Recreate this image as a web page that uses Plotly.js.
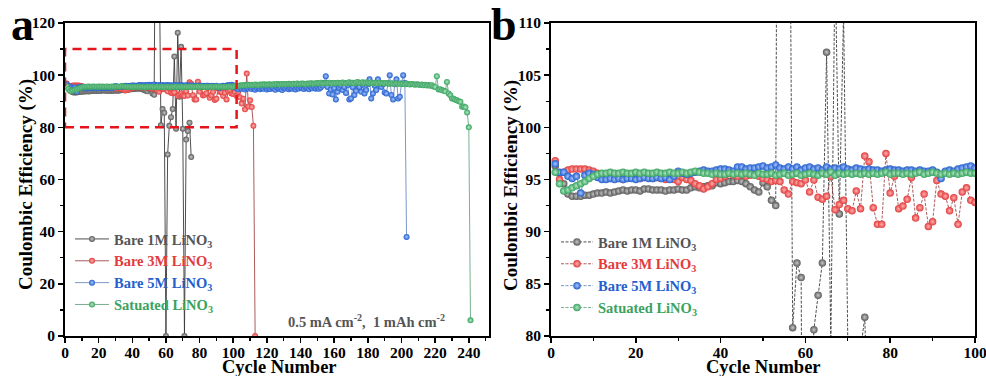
<!DOCTYPE html>
<html>
<head>
<meta charset="utf-8">
<script src="https://cdn.plot.ly/plotly-3.0.1.min.js"></script>
<style>html,body{margin:0;padding:0;background:#fff;}#chart{width:986px;height:376px;}</style>
</head>
<body>
<div id="chart"></div>
<script>
// ---------- DATA (Coulombic efficiency, %, per cycle starting at cycle 1) ----------
const seriesNames = ['Bare 1M LiNO<sub>3</sub>', 'Bare 3M LiNO<sub>3</sub>', 'Bare 5M LiNO<sub>3</sub>', 'Satuated LiNO<sub>3</sub>'];

const ceBare1M = [
  96.3, 95.6, 94.6, 93.6, 93.4, 93.4, 93.4, 93.5, 93.5, 93.6,
  93.7, 93.7, 93.8, 93.7, 93.8, 93.9, 94.0, 93.9, 94.0, 94.0,
  93.9, 94.1, 94.1, 94.0, 94.0, 94.0, 93.9, 94.0, 94.0, 94.1,
  94.0, 94.0, 94.2, 94.3, 94.2, 94.3, 94.4, 94.4, 94.7, 94.6,
  94.7, 94.8, 94.8, 94.9, 94.8, 94.6, 94.3, 94.0, 93.8, 94.7,
  94.3, 93.0, 92.5, 200.0, 160.0, 146.0, 80.8, 87.0, 85.6, 0.0,
  69.6, 80.6, 83.9, 87.0, 107.2, 79.5, 116.3, 91.7, 110.9, 79.5,
  0.0, 75.3, 78.6, 81.8, 68.6
];

const ceBare3M = [
  96.8, 95.0, 95.7, 95.9, 96.0, 96.0, 96.0, 96.0, 95.9, 95.8,
  95.6, 95.4, 95.2, 95.1, 95.1, 95.1, 95.0, 95.1, 95.2, 95.1,
  95.1, 95.2, 95.2, 95.1, 95.2, 95.1, 95.0, 95.2, 95.0, 94.8,
  95.2, 95.0, 94.9, 94.6, 94.4, 94.1, 94.3, 94.6, 95.0, 95.1,
  95.3, 95.6, 95.4, 95.3, 95.5, 95.3, 95.4, 95.6, 95.3, 95.1,
  95.0, 94.8, 94.9, 94.8, 94.0, 93.6, 94.8, 94.7, 94.6, 94.95,
  93.8, 94.95, 93.3, 93.1, 93.4, 95.3, 92.1, 92.6, 93.0, 92.2,
  92.0, 93.9, 92.2, 97.25, 96.7, 92.3, 90.7, 90.7, 97.5, 93.7,
  95.3, 92.2, 92.45, 93.1, 95.2, 91.3, 92.3, 93.6, 90.5, 90.95,
  94.9, 93.6, 93.4, 92.0, 93.25, 90.7, 93.8, 94.2, 93.0, 92.8,
  93.5, 92.0, 93.6, 91.5, 89.1, 91.0, 86.9, 100.6, 88.0, 90.4,
  87.8, 80.6, 0.0
];

const ceBare5M = [
  96.5, 95.7, 95.7, 95.3, 95.1, 95.3, 93.7, 95.4, 95.6, 95.5,
  95.2, 95.0, 95.0, 95.1, 95.0, 95.1, 95.0, 95.1, 95.1, 95.0,
  95.1, 95.2, 95.1, 95.1, 95.2, 95.1, 95.2, 95.0, 95.3, 95.8,
  95.6, 95.5, 95.6, 95.7, 95.8, 95.9, 95.8, 95.8, 95.9, 96.0,
  96.0, 95.9, 95.8, 96.2, 96.2, 96.0, 96.1, 96.1, 96.2, 96.3,
  96.1, 96.2, 96.4, 96.1, 96.0, 96.2, 96.0, 96.2, 95.9, 96.1,
  96.2, 96.0, 96.1, 95.9, 96.2, 96.0, 96.1, 96.0, 96.2, 96.0,
  95.9, 96.1, 96.0, 95.9, 96.0, 95.9, 95.9, 95.8, 95.9, 96.0,
  95.9, 95.9, 95.8, 95.9, 95.9, 95.8, 95.9, 95.8, 95.8, 95.9,
  95.7, 95.1, 95.8, 95.9, 95.8, 96.0, 96.1, 96.2, 96.3, 96.1,
  95.4, 95.0, 94.6, 95.2, 94.8, 95.3, 94.5, 95.1, 94.9, 95.4,
  94.7, 95.2, 94.4, 95.0, 95.3, 94.6, 95.1, 94.8, 95.4, 94.5,
  95.0, 94.7, 95.3, 94.9, 94.4, 95.2, 94.8, 95.0, 94.3, 95.1,
  94.9, 95.4, 94.6, 95.0, 94.8, 95.3, 94.5, 95.2, 94.9, 95.5,
  95.0, 94.7, 95.3, 95.1, 94.6, 95.4, 95.0, 95.6, 94.8, 95.2,
  94.8, 95.3, 96.0, 97.0, 99.6, 95.5, 93.0, 94.5, 92.6, 95.0,
  90.7, 93.6, 95.2, 96.0, 94.3, 95.5, 93.2, 96.2, 90.7, 91.1,
  95.4, 92.4, 94.0, 96.0, 95.5, 93.6, 96.3, 93.0, 94.3, 96.5,
  98.4, 91.1, 93.0, 96.0, 94.3, 98.4, 96.2, 95.5, 96.5, 93.4,
  93.0, 96.8, 100.0, 92.4, 90.7, 96.5, 98.4, 91.1, 91.7, 96.8,
  100.0, 97.0, 38.0
];

const ceSaturated = [
  95.7, 94.6, 93.9, 94.0, 94.2, 94.4, 94.6, 94.8, 95.1, 95.3,
  95.5, 95.6, 95.6, 95.7, 95.6, 95.6, 95.7, 95.6, 95.6, 95.7,
  95.6, 95.7, 95.6, 95.6, 95.7, 95.6, 95.6, 95.7, 95.6, 95.6,
  95.7, 95.6, 95.7, 95.8, 95.7, 95.6, 95.6, 95.5, 95.6, 95.5,
  95.5, 95.6, 95.5, 95.6, 95.5, 95.6, 95.5, 95.4, 95.6, 95.5,
  95.5, 95.6, 95.4, 95.5, 95.6, 95.4, 95.5, 95.6, 95.4, 95.5,
  95.6, 95.5, 95.4, 95.6, 95.5, 95.7, 95.4, 95.6, 95.5, 95.6,
  95.5, 95.6, 95.5, 95.6, 95.5, 95.6, 95.5, 95.6, 95.7, 95.5,
  95.6, 95.6, 95.5, 95.6, 95.5, 95.6, 95.7, 95.5, 95.6, 95.7,
  95.6, 95.5, 95.6, 95.5, 95.6, 95.5, 95.6, 95.7, 95.6, 95.6,
  95.8, 95.9, 95.8, 96.0, 96.1, 96.0, 96.2, 96.1, 96.3, 96.2,
  96.3, 96.2, 96.4, 96.3, 96.2, 96.4, 96.3, 96.5, 96.4, 96.3,
  96.5, 96.4, 96.3, 96.5, 96.4, 96.6, 96.5, 96.4, 96.6, 96.5,
  96.6, 96.5, 96.7, 96.6, 96.5, 96.7, 96.6, 96.8, 96.6, 96.7,
  96.8, 96.7, 96.6, 96.8, 96.7, 96.9, 96.8, 96.7, 96.9, 97.0,
  96.8, 97.1, 96.9, 96.8, 97.0, 96.9, 97.1, 97.0, 96.8, 97.0,
  96.9, 97.1, 97.0, 96.9, 97.2, 97.0, 96.9, 97.1, 97.3, 97.0,
  97.1, 96.9, 97.2, 97.4, 97.0, 97.1, 97.3, 97.0, 97.2, 97.1,
  97.0, 97.2, 96.9, 97.1, 97.0, 96.8, 97.1, 96.9, 97.0, 96.8,
  97.0, 96.9, 96.7, 96.9, 96.8, 96.6, 96.9, 96.7, 96.8, 96.6,
  96.7, 96.5, 96.8, 96.6, 96.4, 96.6, 96.5, 96.3, 96.5, 96.4,
  96.2, 96.4, 96.1, 96.3, 96.0, 96.2, 95.9, 96.1, 95.7, 95.5,
  99.6, 94.5, 94.6, 94.3, 94.0, 93.8, 97.4, 93.0, 92.3, 91.1,
  91.0, 90.6, 90.4, 90.0, 89.8, 87.9, 88.0, 87.7, 85.7, 80.0,
  6.0
];

const xTicksA = [0, 20, 40, 60, 80, 100, 120, 140, 160, 180, 200, 220, 240];
const yTicksA = [0, 20, 40, 60, 80, 100, 120];
const xTicksB = [0, 20, 40, 60, 80, 100];
const yTicksB = [80, 85, 90, 95, 100, 105, 110];
const zoomBox = {x0: 0, x1: 102, y0: 80, y1: 110};
const xTitle = 'Cycle Number';
const yTitle = 'Coulombic Efficiency (%)';
const rateLabel = '0.5 mA cm<sup>-2</sup>,  1 mAh cm<sup>-2</sup>';

// ---------- STYLE ----------
const allData = [ceBare1M, ceBare3M, ceBare5M, ceSaturated];
const markerColors = ['#5a5a5a', '#e23c3c', '#2460cc', '#39a35f'];
const markerLight = ['#c8c8c8', '#ffb0b0', '#a8c4ff', '#b4e8c6'];
const lineColors = ['#3a3a3a', '#a34848', '#6b8cc4', '#6aa884'];
const textColors = ['#555555', '#e23c3c', '#2460cc', '#39a35f'];
const FONT = 'Liberation Serif, Times New Roman, serif';

const traces = [];
allData.forEach((vals, i) => {
  const cyc = vals.map((v, k) => k + 1);
  const label = '<span style="color:' + textColors[i] + '">' + seriesNames[i] + '</span>';
  traces.push({
    x: cyc, y: vals, xaxis: 'x', yaxis: 'y', type: 'scatter', mode: 'lines+markers',
    name: label, legend: 'legend', cliponaxis: true,
    line: {color: lineColors[i], width: 0.9},
    marker: {color: markerColors[i], size: 6, line: {width: 0},
             gradient: {type: 'radial', color: markerLight[i]}}
  });
  traces.push({
    x: cyc, y: vals, xaxis: 'x2', yaxis: 'y2', type: 'scatter', mode: 'lines+markers',
    name: label, legend: 'legend2', cliponaxis: true,
    line: {color: lineColors[i], width: 0.9, dash: '3px,1.5px'},
    marker: {color: markerColors[i], size: 7.5, line: {width: 0},
             gradient: {type: 'radial', color: markerLight[i]}}
  });
});

const axisCommon = {
  showline: true, linecolor: '#000', linewidth: 2, mirror: true,
  ticks: 'outside', ticklen: 5, tickwidth: 1.6, tickcolor: '#000',
  showgrid: false, zeroline: false, ticklabeloverflow: 'allow',
  tickfont: {family: FONT, size: 15.5, color: '#000', weight: 'bold'}
};
const minorTicks = {ticks: 'outside', ticklen: 3, tickwidth: 1.4, tickcolor: '#000'};

const plotTop = 23, plotBottom = 336;
const py = p => (plotBottom - p) / (plotBottom - plotTop);   // pixel row -> paper y
const px = p => p / 986;                                   // pixel col -> paper x

const layout = {
  width: 986, height: 376,
  margin: {l: 0, r: 0, t: plotTop, b: 376 - plotBottom},
  paper_bgcolor: '#fff', plot_bgcolor: '#fff',
  font: {family: FONT, color: '#000'},
  showlegend: true,
  xaxis: Object.assign({}, axisCommon, {
    domain: [px(65), px(489)], range: [0, 252], anchor: 'y', ticklabelstandoff: -4,
    tickmode: 'array', tickvals: xTicksA, ticktext: xTicksA.map(String),
    minor: Object.assign({dtick: 10}, minorTicks)
  }),
  yaxis: Object.assign({}, axisCommon, {
    domain: [0, 1], range: [0, 120], anchor: 'x',
    tickmode: 'array', tickvals: yTicksA, ticktext: yTicksA.map(String),
    minor: Object.assign({dtick: 10}, minorTicks)
  }),
  xaxis2: Object.assign({}, axisCommon, {
    domain: [px(551), px(975)], range: [0, 100], anchor: 'y2', ticklabelstandoff: -4,
    tickmode: 'array', tickvals: xTicksB, ticktext: xTicksB.map(String),
    minor: Object.assign({dtick: 10}, minorTicks)
  }),
  yaxis2: Object.assign({}, axisCommon, {
    domain: [0, 1], range: [80, 110], anchor: 'x2',
    tickmode: 'array', tickvals: yTicksB, ticktext: yTicksB.map(String),
    minor: Object.assign({dtick: 2.5}, minorTicks)
  }),
  legend: {
    x: px(70), y: py(223), xanchor: 'left', yanchor: 'top',
    bgcolor: 'rgba(0,0,0,0)', borderwidth: 0, itemwidth: 34, tracegroupgap: 0,
    font: {family: FONT, size: 14.5, weight: 'bold'}
  },
  legend2: {
    x: px(556), y: py(226), xanchor: 'left', yanchor: 'top',
    bgcolor: 'rgba(0,0,0,0)', borderwidth: 0, itemwidth: 32, tracegroupgap: 0,
    font: {family: FONT, size: 14.5, weight: 'bold'}
  },
  shapes: [{
    type: 'rect', xref: 'x', yref: 'y',
    x0: zoomBox.x0, x1: zoomBox.x1, y0: zoomBox.y0, y1: zoomBox.y1,
    line: {color: '#e8141c', width: 2.5, dash: '9px,6px'}, fillcolor: 'rgba(0,0,0,0)'
  }],
  annotations: [
    {text: 'a', xref: 'paper', yref: 'paper', x: px(22), y: py(24),
     xanchor: 'center', yanchor: 'middle', showarrow: false,
     font: {family: FONT, size: 46, weight: 'bold', color: '#000'}},
    {text: 'b', xref: 'paper', yref: 'paper', x: px(504), y: py(24),
     xanchor: 'center', yanchor: 'middle', showarrow: false,
     font: {family: FONT, size: 46, weight: 'bold', color: '#000'}},
    {text: rateLabel, xref: 'paper', yref: 'paper', x: px(366), y: py(321),
     xanchor: 'center', yanchor: 'middle', showarrow: false,
     font: {family: FONT, size: 14.5, weight: 'bold', color: '#555'}},
    {text: xTitle, xref: 'paper', yref: 'paper', x: px(279), y: py(367),
     xanchor: 'center', yanchor: 'middle', showarrow: false,
     font: {family: FONT, size: 18.5, weight: 'bold', color: '#000'}},
    {text: xTitle, xref: 'paper', yref: 'paper', x: px(763), y: py(367),
     xanchor: 'center', yanchor: 'middle', showarrow: false,
     font: {family: FONT, size: 18.5, weight: 'bold', color: '#000'}},
    {text: yTitle, xref: 'paper', yref: 'paper', x: px(26), y: py(185), textangle: -90,
     xanchor: 'center', yanchor: 'middle', showarrow: false,
     font: {family: FONT, size: 19, weight: 'bold', color: '#000'}},
    {text: yTitle, xref: 'paper', yref: 'paper', x: px(511), y: py(185), textangle: -90,
     xanchor: 'center', yanchor: 'middle', showarrow: false,
     font: {family: FONT, size: 19, weight: 'bold', color: '#000'}}
  ]
};

Plotly.newPlot('chart', traces, layout, {displayModeBar: false, staticPlot: true});
</script>
</body>
</html>
